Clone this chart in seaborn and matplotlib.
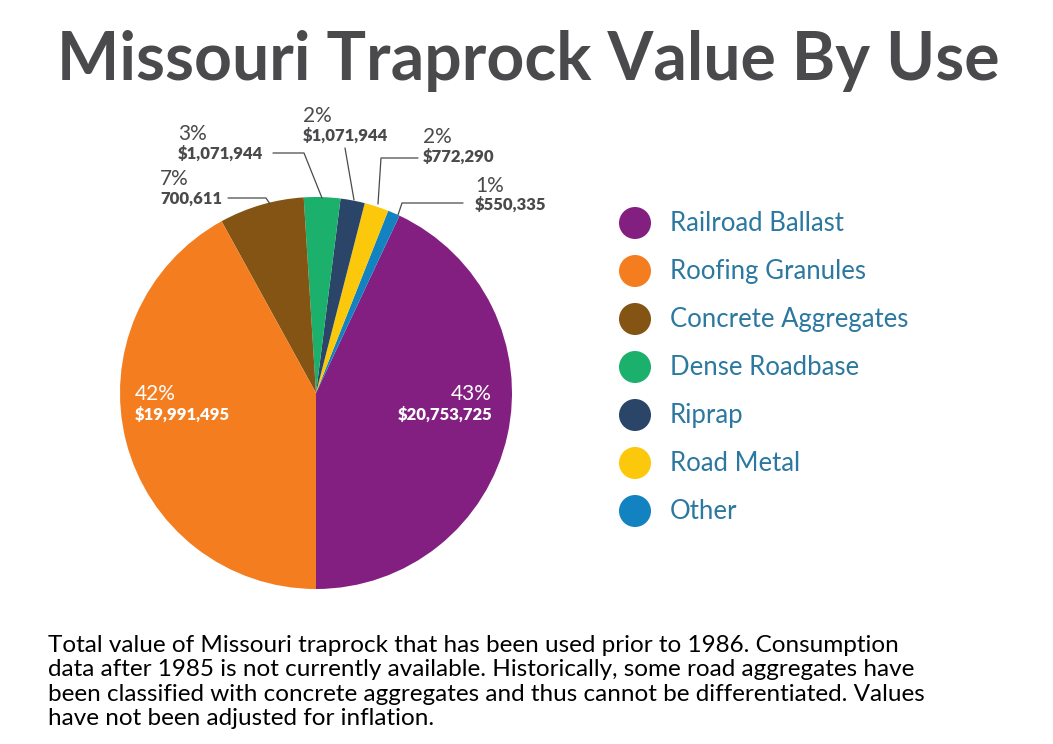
import matplotlib.pyplot as plt
import seaborn as sns
from matplotlib.patches import Circle

# Data (pie order: counter-clockwise starting at 6 o'clock)
uses = ["Railroad Ballast", "Other", "Road Metal", "Riprap",
        "Dense Roadbase", "Concrete Aggregates", "Roofing Granules"]
percents = [43, 1, 2, 2, 3, 7, 42]
values = ["$20,753,725", "$550,335", "$772,290", "$1,071,944",
          "$1,071,944", "700,611", "$19,991,495"]
colors = ["#831f80", "#1382c0", "#fcc80b", "#2a4568",
          "#1bb06b", "#845414", "#f47d20"]

legend_order = ["Railroad Ballast", "Roofing Granules", "Concrete Aggregates",
                "Dense Roadbase", "Riprap", "Road Metal", "Other"]

title = "Missouri Traprock Value By Use"
note = ["Total value of Missouri traprock that has been used prior to 1986. Consumption",
        "data after 1985 is not currently available. Historically, some road aggregates have",
        "been classified with concrete aggregates and thus cannot be differentiated. Values",
        "have not been adjusted for inflation."]

sns.set_theme(style="white")
plt.rcParams["font.family"] = ["Lato", "DejaVu Sans"]

W, H = 1053, 744
fig = plt.figure(figsize=(W / 100, H / 100), dpi=100)
fig.patch.set_facecolor("white")

# pie axes: centre (316, 393), radius 196 px
cx, cy, r = 316, 393, 196
pax = fig.add_axes([(cx - r) / W, (H - cy - r) / H, 2 * r / W, 2 * r / H])
pax.pie(percents, colors=colors, startangle=-90, counterclock=True,
        radius=1, wedgeprops=dict(linewidth=0))
pax.set_xlim(-1, 1)
pax.set_ylim(-1, 1)
pax.axis("off")

# overlay axes in pixel coordinates for text and legend
ov = fig.add_axes([0, 0, 1, 1], zorder=5)
ov.set_xlim(0, W)
ov.set_ylim(H, 0)
ov.axis("off")
ov.patch.set_alpha(0)

grey = "#4a4a4c"
ov.text(528, 80, title, ha="center", va="baseline", fontsize=47.5,
        fontweight="bold", color=grey)

# big labels inside the pie
lab = dict(zip(uses, zip(percents, values)))
p, v = lab["Roofing Granules"]
ov.text(135, 400, f"{p}%", ha="left", va="baseline", fontsize=15, color="white")
ov.text(135, 420, v, ha="left", va="baseline", fontsize=12, fontweight="heavy", color="white")
p, v = lab["Railroad Ballast"]
ov.text(492, 400, f"{p}%", ha="right", va="baseline", fontsize=15, color="white")
ov.text(492, 420, v, ha="right", va="baseline", fontsize=12, fontweight="heavy", color="white")

# small outside labels: (use, text x, pct baseline, value baseline, leader line)
outside = [
    ("Concrete Aggregates", 160, 185, 204, [(228, 198), (266, 198), (270, 204)]),
    ("Dense Roadbase", 178, 140, 159, [(273, 153), (304, 153), (322, 198)]),
    ("Riprap", 303, 122, 141, [(345, 148), (354, 200)]),
    ("Road Metal", 423, 143, 162, [(418, 158), (381, 158), (378, 204)]),
    ("Other", 475, 192, 210, [(463, 203), (402, 203), (398, 215)]),
]
for name, tx, yb1, yb2, pts in outside:
    p, v = lab[name]
    ov.text(tx, yb1, f"{p}%", ha="left", va="baseline", fontsize=15, color=grey)
    ov.text(tx, yb2, v, ha="left", va="baseline", fontsize=12, fontweight="heavy", color=grey)
    ov.plot([q[0] for q in pts], [q[1] for q in pts], color=grey, lw=0.9)

# legend
col = dict(zip(uses, colors))
for i, name in enumerate(legend_order):
    y = 223 + i * 48
    ov.add_patch(Circle((635, y), 16, color=col[name], lw=0))
    ov.text(670, y + 8, name, ha="left", va="baseline", fontsize=18.5, color="#2b78a0")

# footnote
for i, line in enumerate(note):
    ov.text(48, 652 + i * 24.3, line, ha="left", va="baseline", fontsize=17.5,
            color="black")

fig.savefig("out.png", dpi=100)
